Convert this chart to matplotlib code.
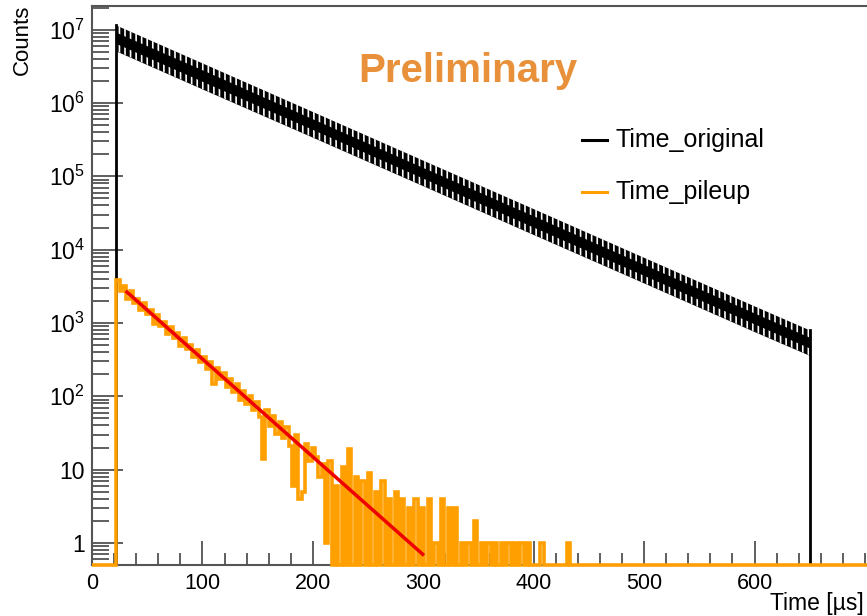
import numpy as np
import matplotlib
matplotlib.use("Agg")
import matplotlib.pyplot as plt
from matplotlib.ticker import LogLocator, FixedLocator, NullFormatter, MultipleLocator

plt.rcParams['font.family'] = ['Liberation Sans', 'DejaVu Sans']
plt.rcParams['mathtext.fontset'] = 'custom'
plt.rcParams['mathtext.rm'] = 'Liberation Sans'
plt.rcParams['mathtext.it'] = 'Liberation Sans:italic'
plt.rcParams['hatch.linewidth'] = 1.2

# ---------------- data ----------------
# Time_original: envelope of the wiggle band (outer edges and solid core)
orig_time = [22, 100, 200, 300, 400, 500, 600, 650]
orig_upper = [1.15e7, 3.5e6, 7.6e5, 1.65e5, 3.6e4, 7.8e3, 1.7e3, 800]
orig_lower = [5.1e6, 1.55e6, 3.4e5, 7.4e4, 1.6e4, 3.5e3, 760, 360]
orig_core_upper = [9.1e6, 2.8e6, 6.0e5, 1.3e5, 2.85e4, 6.2e3, 1.35e3, 630]
orig_core_lower = [6.4e6, 1.95e6, 4.3e5, 9.3e4, 2.0e4, 4.4e3, 960, 450]

# Time_pileup histogram (3 us bins starting at 22 us)
pileup_start = 22
pileup_width = 3
pileup_counts = [
    3900, 2750, 3160, 2090, 2690, 1860, 2140, 1480, 1860, 1320,
    1510, 977, 1290, 912, 1020, 708, 891, 617, 724, 479,
    617, 437, 501, 347, 427, 295, 347, 234, 295, 148,
    245, 170, 209, 135, 170, 115, 145, 89, 117, 79,
    102, 65, 83, 52, 14, 65, 39, 54, 31, 45,
    27, 38, 21, 6, 30, 4, 5, 22, 13, 20,
    15, 8, 12, 1, 13, 0, 6, 0, 11, 0,
    19, 0, 8, 0, 7, 0, 9, 0, 5, 0,
    7, 0, 4, 0, 5, 0, 4, 0, 3, 0,
    4, 0, 3, 0, 4, 0, 1, 0, 4, 0,
    3, 0, 3, 0, 1, 0, 1, 0, 2, 0,
    1, 0, 1, 0, 1, 0, 1, 0, 1, 0,
    1, 0, 1, 0, 1, 0, 0, 0, 1, 0,
    0, 0, 0, 0, 0, 0, 1, 0, 0, 0,
    0, 0, 0, 0, 0, 0, 0, 0, 0, 0,
    0, 0, 0, 0, 0, 0, 0, 0, 0, 0,
]

# exponential fit to pileup (red line end points)
fit_time = [31.6, 299.5]
fit_counts = [2640, 0.70]

x_ticks = [0, 100, 200, 300, 400, 500, 600]
y_ticks = [1, 10, 100, 1e3, 1e4, 1e5, 1e6, 1e7]
y_ticklabels = ['1', '10', r'$10^{2}$', r'$10^{3}$', r'$10^{4}$', r'$10^{5}$', r'$10^{6}$', r'$10^{7}$']

# ---------------- figure ----------------
W, H = 867, 616
fig = plt.figure(figsize=(W / 100, H / 100), dpi=100)
ax = fig.add_axes([92 / W, 51 / H, (876 - 92) / W, (610 - 51) / H])

XMIN, XMAX = 0, 710
YMIN, YMAX = 0.5, 2.1e7
ax.set_xlim(XMIN, XMAX)
ax.set_yscale('log')
ax.set_ylim(YMIN, YMAX)

black = '#000000'
orange = '#FFA000'

# Time_original band
ax.fill_between(orig_time, orig_lower, orig_upper, color=black, lw=0, zorder=3)
ax.fill_between(orig_time, orig_core_upper, orig_upper, facecolor='none',
                edgecolor='white', hatch='|||', lw=0, zorder=3.1)
ax.fill_between(orig_time, orig_lower, orig_core_lower, facecolor='none',
                edgecolor='white', hatch='|||', lw=0, zorder=3.1)
ax.plot([orig_time[0], orig_time[0]], [YMIN, orig_upper[0]], color=black, lw=2, zorder=3.2)
ax.plot([orig_time[-1], orig_time[-1]], [YMIN, orig_upper[-1]], color=black, lw=2, zorder=3.2)

# Time_pileup histogram
counts = np.array(pileup_counts, dtype=float)
edges = pileup_start + pileup_width * np.arange(len(counts) + 1)
vals = np.concatenate([[0.0], counts, [0.0]])
all_edges = np.concatenate([[XMIN], edges, [XMAX]])
vals = np.where(vals <= 0, YMIN, vals)
ax.stairs(vals, all_edges, baseline=None, color=orange, lw=2.6, zorder=4, clip_on=False)

# fit
ax.plot(fit_time, fit_counts, color='#EE0000', lw=2.5, zorder=5)

# ticks (ROOT style, inside)
ax.xaxis.set_major_locator(FixedLocator(x_ticks))
ax.xaxis.set_minor_locator(MultipleLocator(20))
ax.set_xticklabels([str(v) for v in x_ticks])
ax.yaxis.set_major_locator(FixedLocator(y_ticks))
ax.set_yticklabels(y_ticklabels)
ax.yaxis.set_minor_locator(LogLocator(base=10, subs=np.arange(2, 10), numticks=20))
ax.yaxis.set_minor_formatter(NullFormatter())

tc = '#444444'
ax.tick_params(axis='x', which='major', direction='in', length=17, width=1.2, color=tc,
               labelsize=15.5, pad=6, top=False)
ax.tick_params(axis='x', which='minor', direction='in', length=9, width=1.2, color=tc, top=False)
ax.tick_params(axis='y', which='major', direction='in', length=22, width=1.2, color=tc,
               labelsize=16.5, pad=5, right=False)
ax.tick_params(axis='y', which='minor', direction='in', length=12, width=1.2, color=tc, right=False)

for s in ax.spines.values():
    s.set_color('#555555')
    s.set_linewidth(1.5)
ax.spines['right'].set_visible(False)

# axis titles
fig.text(22 / W, 1 - 5 / H, 'Counts', rotation=90, ha='center', va='top', fontsize=16)
fig.text(864 / W, 6 / H, 'Time [µs]', ha='right', va='baseline', fontsize=16.5)

# Preliminary
fig.text(468 / W, 1 - 82 / H, 'Preliminary', ha='center', va='baseline', fontsize=29,
         fontweight='bold', color='#E8913A')

# legend
for yy, col, lab in [(140, black, 'Time_original'), (192, orange, 'Time_pileup')]:
    fig.add_artist(plt.Line2D([582 / W, 607 / W], [1 - yy / H, 1 - yy / H],
                              color=col, lw=2.2, transform=fig.transFigure))
    fig.text(615 / W, 1 - yy / H, lab, ha='left', va='center', fontsize=18)

fig.savefig('out.png', dpi=100)
